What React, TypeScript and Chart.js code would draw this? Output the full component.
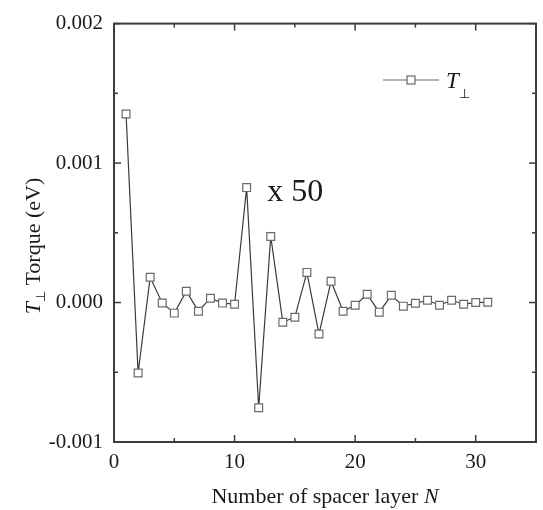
import React, { useEffect, useRef } from "react";
import { Chart, registerables } from "chart.js";

Chart.register(...registerables);

// Data (torque in eV, already scaled as plotted)
const layers = [1, 2, 3, 4, 5, 6, 7, 8, 9, 10, 11, 12, 13, 14, 15, 16, 17, 18, 19, 20, 21, 22, 23, 24, 25, 26, 27, 28, 29, 30, 31];
const torque = [
  0.001352, -0.000505, 0.000181, -0.000003, -0.000076, 0.000081, -0.000062, 0.000031, -0.000004, -0.000012,
  0.000824, -0.000755, 0.000474, -0.000141, -0.000105, 0.000216, -0.000226, 0.000152, -0.000062, -0.000019,
  0.000059, -0.000069, 0.000052, -0.000026, -0.000005, 0.000016, -0.000019, 0.000016, -0.000012, 0.0, 0.000002,
];
const xMajorTicks = [0, 10, 20, 30];
const xMinorTicks = [5, 15, 25, 35];
const yMajorTicks = [-0.001, 0, 0.001, 0.002];
const yMinorTicks = [-0.0005, 0.0005, 0.0015];
const seriesLabel = "T";
const seriesSub = "⊥";
const xTitle = "Number of spacer layer ";
const xTitleItalic = "N";
const yTitleRest = " Torque (eV)";
const annotation = "x 50";

const SERIF = '"Liberation Serif", "Times New Roman", serif';
const AXIS_COLOR = "#3c3c3c";
const LINE_COLOR = "#3a3a3a";
const MARK_COLOR = "#6a6a6a";

type Run = { t: string; font: string; dy?: number };

function drawRuns(ctx: CanvasRenderingContext2D, runs: Run[], x: number, y: number, align: "left" | "center") {
  let total = 0;
  for (const r of runs) {
    ctx.font = r.font;
    total += ctx.measureText(r.t).width;
  }
  let cx = align === "center" ? x - total / 2 : x;
  ctx.textAlign = "left";
  ctx.textBaseline = "alphabetic";
  for (const r of runs) {
    ctx.font = r.font;
    ctx.fillText(r.t, cx, y + (r.dy || 0));
    cx += ctx.measureText(r.t).width;
  }
}

const decorPlugin = {
  id: "decor",
  afterDraw(chart: any) {
    const { ctx, chartArea: a } = chart;
    const x = chart.scales.x;
    const y = chart.scales.y;
    ctx.save();
    ctx.strokeStyle = AXIS_COLOR;
    ctx.lineWidth = 2;
    ctx.strokeRect(a.left, a.top, a.right - a.left, a.bottom - a.top);

    ctx.lineWidth = 1.5;
    const seg = (x1: number, y1: number, x2: number, y2: number) => {
      ctx.beginPath();
      ctx.moveTo(x1, y1);
      ctx.lineTo(x2, y2);
      ctx.stroke();
    };
    const xt = (v: number, len: number) => {
      const p = x.getPixelForValue(v);
      seg(p, a.bottom, p, a.bottom - len);
      seg(p, a.top, p, a.top + len);
    };
    const yt = (v: number, len: number) => {
      const p = y.getPixelForValue(v);
      seg(a.left, p, a.left + len, p);
      seg(a.right, p, a.right - len, p);
    };
    xMajorTicks.forEach((v) => xt(v, 7));
    xMinorTicks.forEach((v) => xt(v, 4));
    yMajorTicks.forEach((v) => yt(v, 7));
    yMinorTicks.forEach((v) => yt(v, 4));

    ctx.fillStyle = "#1a1a1a";
    // x title
    drawRuns(
      ctx,
      [
        { t: xTitle, font: `22px ${SERIF}` },
        { t: xTitleItalic, font: `italic 22px ${SERIF}` },
      ],
      (a.left + a.right) / 2,
      503,
      "center"
    );
    // y title (rotated)
    ctx.save();
    ctx.translate(40, 246);
    ctx.rotate(-Math.PI / 2);
    drawRuns(
      ctx,
      [
        { t: seriesLabel, font: `italic 22px ${SERIF}` },
        { t: seriesSub, font: `13px ${SERIF}`, dy: 5 },
        { t: yTitleRest, font: `22px ${SERIF}` },
      ],
      0,
      0,
      "center"
    );
    ctx.restore();

    // legend
    ctx.strokeStyle = MARK_COLOR;
    ctx.lineWidth = 1.2;
    seg(383, 80, 439, 80);
    ctx.fillStyle = "#ffffff";
    ctx.fillRect(407, 76, 8, 8);
    ctx.strokeRect(407, 76, 8, 8);
    ctx.fillStyle = "#1a1a1a";
    drawRuns(ctx, [{ t: seriesLabel, font: `italic 23px ${SERIF}` }], 446, 88, "left");
    drawRuns(ctx, [{ t: seriesSub, font: `13px ${SERIF}` }], 459, 98, "left");

    // annotation
    drawRuns(ctx, [{ t: annotation, font: `32px ${SERIF}` }], x.getPixelForValue(12.7), y.getPixelForValue(0.000729), "left");
    ctx.restore();
  },
};

export default function App() {
  const ref = useRef<HTMLCanvasElement | null>(null);
  useEffect(() => {
    if (!ref.current) return;
    const chart = new Chart(ref.current, {
      type: "line",
      data: {
        datasets: [
          {
            label: "T⊥",
            data: layers.map((n, i) => ({ x: n, y: torque[i] })),
            borderColor: LINE_COLOR,
            borderWidth: 1.2,
            pointStyle: "rect",
            pointRadius: 5.5,
            pointBorderWidth: 1.2,
            pointBorderColor: MARK_COLOR,
            pointBackgroundColor: "#ffffff",
            tension: 0,
          },
        ],
      },
      options: {
        responsive: false,
        animation: false,
        layout: { padding: { left: 0, top: 21, right: 7, bottom: 0 } },
        plugins: { legend: { display: false }, tooltip: { enabled: false } },
        scales: {
          x: {
            type: "linear",
            min: 0,
            max: 35,
            grid: { display: true, drawOnChartArea: false, drawTicks: false, color: "rgba(0,0,0,0)" },
            border: { display: false },
            afterBuildTicks: (s: any) => {
              s.ticks = xMajorTicks.map((v) => ({ value: v }));
            },
            afterFit: (s: any) => {
              s.height = 68;
            },
            ticks: {
              color: "#1a1a1a",
              font: { family: SERIF, size: 21 },
              padding: 8,
              maxRotation: 0,
              callback: (v: any) => String(v),
            },
          },
          y: {
            type: "linear",
            min: -0.001,
            max: 0.002,
            grid: { display: true, drawOnChartArea: false, drawTicks: false, color: "rgba(0,0,0,0)" },
            border: { display: false },
            afterBuildTicks: (s: any) => {
              s.ticks = yMajorTicks.map((v) => ({ value: v }));
            },
            afterFit: (s: any) => {
              s.width = 114;
            },
            ticks: {
              color: "#1a1a1a",
              font: { family: SERIF, size: 21 },
              padding: 11,
              callback: (v: any) => (Math.abs(v) < 1e-9 ? "0.000" : Number(v).toFixed(3)),
            },
          },
        },
      },
      plugins: [decorPlugin],
    });
    return () => chart.destroy();
  }, []);
  return (
    <div style={{ position: "absolute", left: 0, top: 0, width: 543, height: 510, background: "#fff" }}>
      <canvas ref={ref} width={543} height={510} />
    </div>
  );
}
